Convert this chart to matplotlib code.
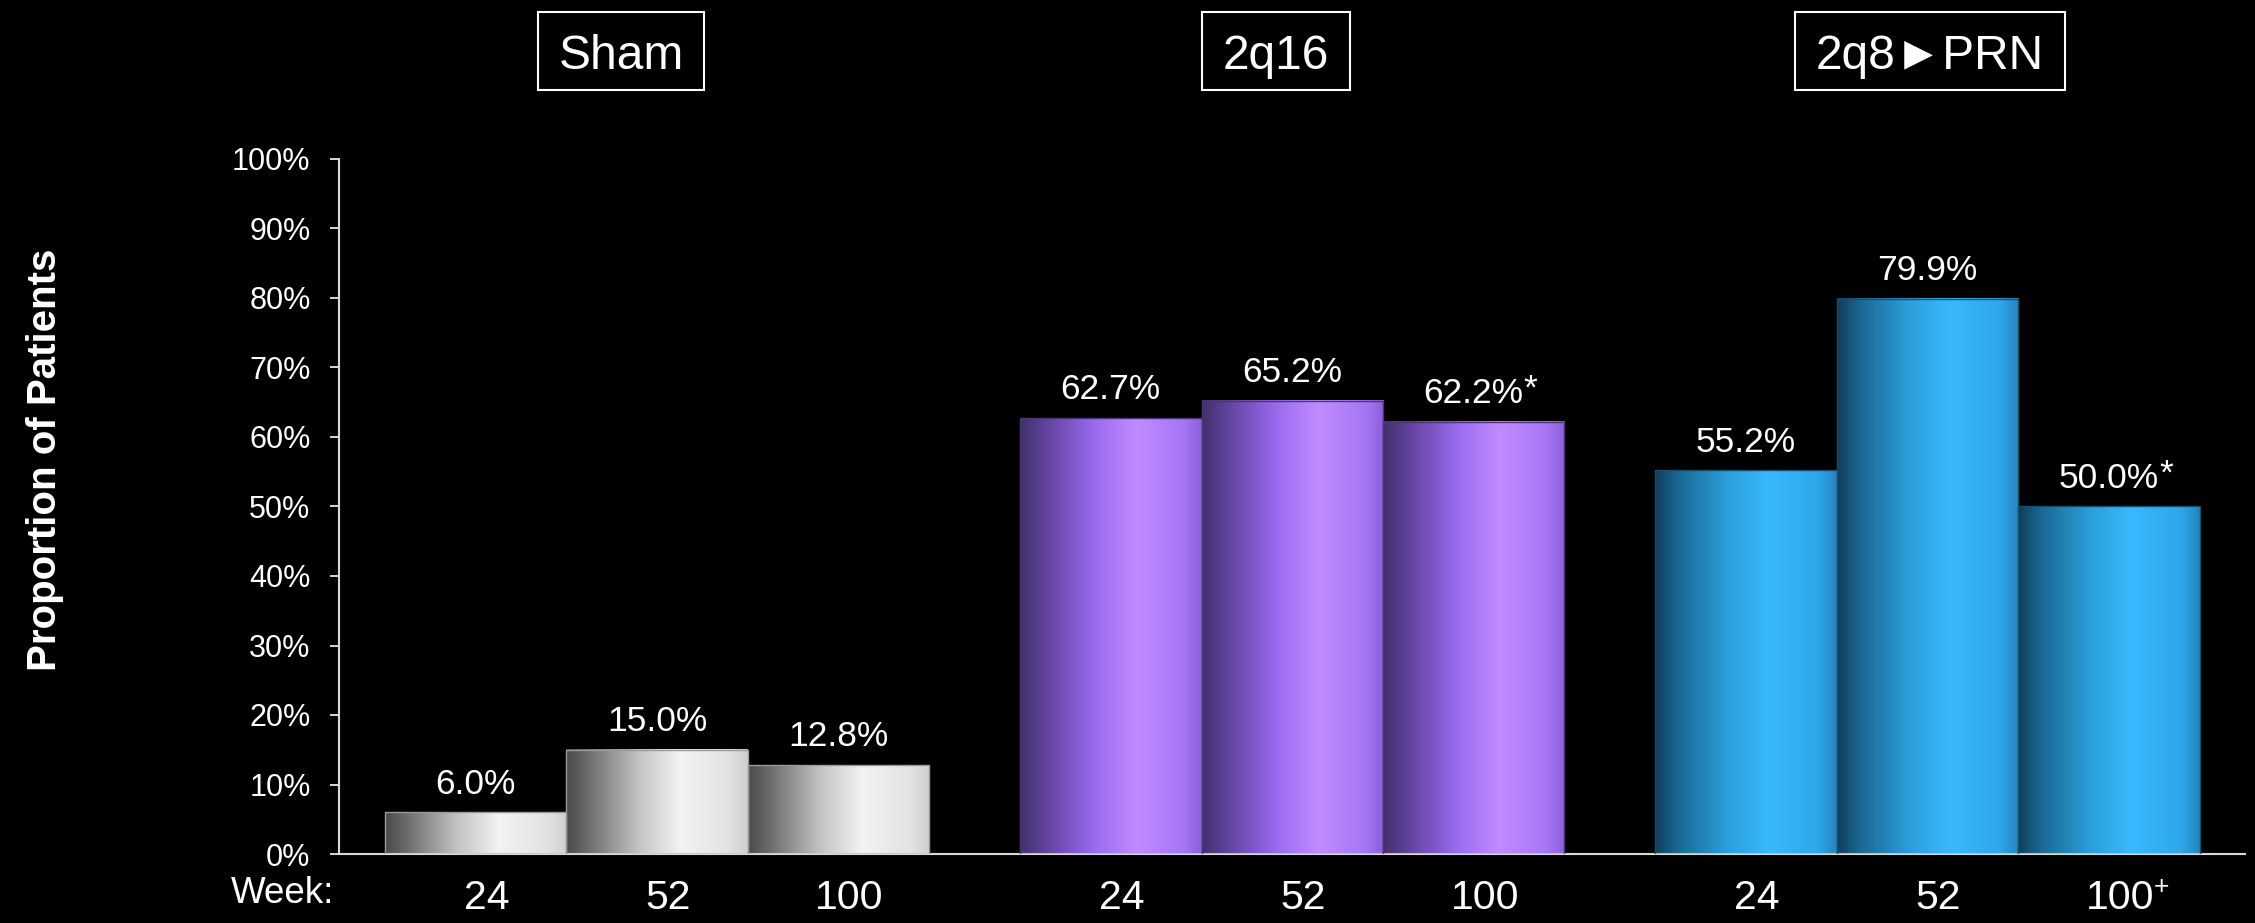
import matplotlib.pyplot as plt
import numpy as np
from matplotlib.colors import LinearSegmentedColormap
from matplotlib.patches import Rectangle

plt.rcParams['font.family'] = ['Liberation Sans', 'DejaVu Sans']

groups = ["Sham", "2q16", "2q8\u25BAPRN"]
weeks = ["24", "52", "100"]
sham = [6.0, 15.0, 12.8]
q16 = [62.7, 65.2, 62.2]
prn = [55.2, 79.9, 50.0]
starred = [[False, False, False], [False, False, True], [False, False, True]]
plus_mark = [[False, False, False], [False, False, False], [False, False, True]]
yticks = list(range(0, 101, 10))

values = [sham, q16, prn]

# horizontal shading of each bar family
shades = [
    [(0, '#4a4a4a'), (0.12, '#6c6c6c'), (0.4, '#c4c4c4'), (0.63, '#f3f3f3'), (0.9, '#e2e2e2'), (1, '#cfcfcf')],
    [(0, '#42306a'), (0.12, '#5c4096'), (0.42, '#9c6cf2'), (0.64, '#c08cff'), (0.9, '#a676f6'), (1, '#8a5fd8')],
    [(0, '#113d5a'), (0.12, '#1a6792'), (0.4, '#2c9fda'), (0.63, '#38b9ff'), (0.9, '#2ea6ea'), (1, '#2585bc')],
]
edges = ['#9a9a9a', '#4a3578', '#155070']

W, H = 2255, 923
fig = plt.figure(figsize=(W / 100, H / 100), dpi=100, facecolor='black')
ax = fig.add_axes([339 / W, 1 - 854 / H, 1906 / W, 695 / H], facecolor='black')

grad = np.linspace(0, 1, 256).reshape(1, -1)
for g, vals in enumerate(values):
    cmap = LinearSegmentedColormap.from_list('s%d' % g, shades[g])
    xs = g * 3.5 + np.arange(len(vals))
    bars = ax.bar(xs, vals, width=1.0, fill=False, edgecolor=edges[g], linewidth=1, zorder=3)
    for i, b in enumerate(bars):
        x0 = b.get_x()
        ax.imshow(grad, extent=(x0, x0 + b.get_width(), 0, b.get_height()),
                  aspect='auto', cmap=cmap, zorder=2, interpolation='bilinear')
        t = ax.annotate('%.1f%%' % vals[i], xy=(xs[i], vals[i]), xytext=(0, 13.5),
                        textcoords='offset points', ha='center', va='baseline',
                        color='white', fontsize=25.5)
        if starred[g][i]:
            ax.annotate('*', xy=(1, 1), xycoords=t, xytext=(0, 3), textcoords='offset points',
                        ha='left', va='top', color='white', fontsize=25.5)
        lab = ax.text(xs[i] + 0.06, -0.079, weeks[i], transform=ax.get_xaxis_transform(),
                      ha='center', va='baseline', color='white', fontsize=29.5)
        if plus_mark[g][i]:
            ax.annotate('+', xy=(1, 1), xycoords=lab, xytext=(0, 3), textcoords='offset points',
                        ha='left', va='top', color='white', fontsize=19)

ax.set_xlim(-0.753, 9.75)
ax.set_ylim(0, 100)
ax.set_yticks(yticks)
ax.set_yticklabels(['%d%%' % v for v in yticks])
ax.set_xticks([])
ax.tick_params(axis='y', direction='out', length=6.5, width=1.4, color='#d9d9d9',
               labelcolor='white', labelsize=22, pad=14)
for s in ['top', 'right']:
    ax.spines[s].set_visible(False)
for s in ['left', 'bottom']:
    ax.spines[s].set_color('#d9d9d9')
    ax.spines[s].set_linewidth(1.5)

fig.text(334 / W, 1 - 903 / H, 'Week:', ha='right', va='baseline', color='white', fontsize=26.5)
fig.text(45 / W, 1 - 460 / H, 'Proportion of Patients', rotation=90, ha='center', va='center',
         color='white', fontsize=29, fontweight='bold')

# boxed group headers
boxes = [(538, 704), (1202, 1350), (1795, 2065)]
for name, (bx0, bx1) in zip(groups, boxes):
    fig.patches.append(Rectangle((bx0 / W, 1 - 90 / H), (bx1 - bx0) / W, 78 / H,
                                 transform=fig.transFigure, fill=False,
                                 edgecolor='white', linewidth=1.5))
    fig.text((bx0 + bx1) / 2 / W, 1 - 69 / H, name, ha='center', va='baseline',
             color='white', fontsize=34.5)

fig.savefig('out.png', dpi=100, facecolor='black')
